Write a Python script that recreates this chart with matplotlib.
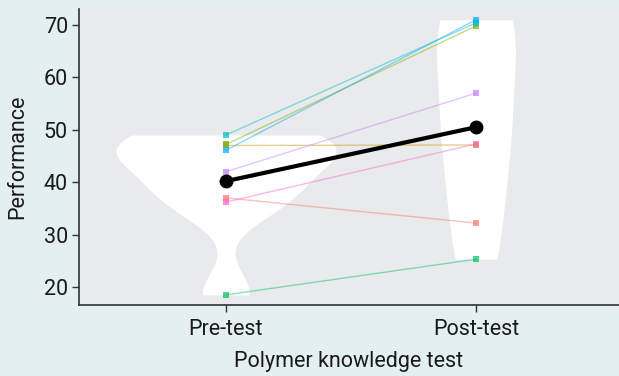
import numpy as np
import matplotlib
matplotlib.use("Agg")
import matplotlib.pyplot as plt

# ---- data ----
categories = ["Pre-test", "Post-test"]
subject_colors = ["#F8766D", "#CD9600", "#7CAE00", "#00BE67",
                  "#00BFC4", "#00A9FF", "#C77CFF", "#FF61CC"]
pre_scores = [37.0, 47.0, 47.2, 18.5, 49.0, 46.1, 42.0, 36.2]
post_scores = [32.2, 47.1, 69.8, 25.3, 70.4, 71.0, 57.0, 47.3]
mean_scores = [40.2, 50.5]
y_ticks = [20, 30, 40, 50, 60, 70]

plt.rcParams['font.family'] = ['Roboto', 'DejaVu Sans']

fig = plt.figure(figsize=(6.19, 3.76), dpi=100)
fig.patch.set_facecolor("#e4eff1")
ax = fig.add_axes([79/619, 1-305/376, 1-79/619, (305-9)/376])
ax.set_facecolor("#e9eaeb")

def nrd0(x):
    x = np.asarray(x)
    sd = np.std(x, ddof=1)
    q75, q25 = np.percentile(x, [75, 25])
    lo = min(sd, (q75 - q25) / 1.34)
    return 0.9 * lo * len(x) ** (-0.2)

def kde(x, grid, bw):
    x = np.asarray(x)[:, None]
    return np.exp(-0.5 * ((grid[None, :] - x) / bw) ** 2).sum(0) / (len(x) * bw * np.sqrt(2 * np.pi))

groups = [pre_scores, post_scores]
dens = []
for g in groups:
    grid = np.linspace(min(g), max(g), 300)
    dens.append((grid, kde(g, grid, nrd0(g))))
dmax = max(d.max() for _, d in dens)
for i, (grid, d) in enumerate(dens):
    hw = d / dmax * 0.44
    ax.fill_betweenx(grid, i - hw, i + hw, color="white", linewidth=0, zorder=1)

for c, a, b in zip(subject_colors, pre_scores, post_scores):
    ax.plot([0, 1], [a, b], color=c, lw=1.0, alpha=0.45, zorder=2)
    ax.plot([0, 1], [a, b], ls="none", marker="s", ms=4, color=c, alpha=0.7,
            markeredgewidth=0, zorder=3)

ax.plot([0, 1], mean_scores, color="black", lw=3, marker="o", ms=9, zorder=4)

ax.set_xlim(-0.588, 1.572)
ax.set_ylim(16.56, 73.05)
ax.set_xticks([0, 1])
ax.set_xticklabels(categories)
ax.set_yticks(y_ticks)
for s in ["top", "right"]:
    ax.spines[s].set_visible(False)
for s in ["left", "bottom"]:
    ax.spines[s].set_color("#333333")
    ax.spines[s].set_linewidth(1.2)
ax.tick_params(axis="both", colors="#333333", labelcolor="#1a1a1a",
               labelsize=15.5, length=5, width=1)
ax.tick_params(axis="x", pad=5)
ax.tick_params(axis="y", pad=3)
ax.set_xlabel("Polymer knowledge test", fontsize=15.5, color="#1a1a1a", labelpad=8)
ax.set_ylabel("Performance", fontsize=15.5, color="#1a1a1a", labelpad=11)

fig.savefig("out.png", dpi=100, facecolor=fig.get_facecolor())
